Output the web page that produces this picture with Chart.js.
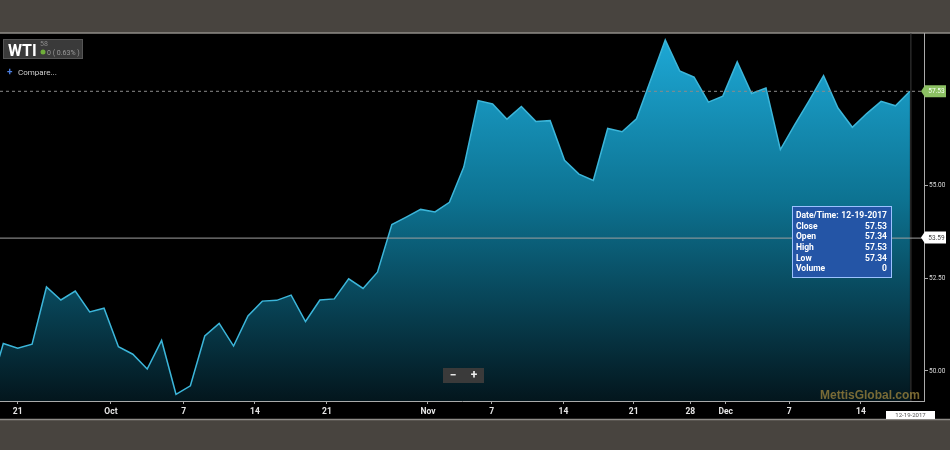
<!DOCTYPE html>
<html>
<head>
<meta charset="utf-8">
<script src="https://cdn.jsdelivr.net/npm/chart.js@4.4.1/dist/chart.umd.min.js"></script>
<style>
  html, body { margin: 0; padding: 0; background: #48443f; }
  #wrap { width: 950px; height: 450px; }
</style>
</head>
<body>
<div id="wrap"><canvas id="graficoWTI" width="950" height="450"></canvas></div>
<script>
// Cierres WTI por dia habil (indice -1 queda cortado en el borde izquierdo)
const precios = [
  49.40,
  50.74, 50.61, 50.72, 52.26, 51.91, 52.15, 51.59, 51.69, 50.65, 50.45,
  50.05, 50.82, 49.37, 49.60, 50.94, 51.28, 50.67, 51.48, 51.88, 51.90,
  52.04, 51.33, 51.91, 51.94, 52.48, 52.22, 52.66, 53.94, 54.14, 54.35,
  54.28, 54.54, 55.49, 57.28, 57.19, 56.78, 57.12, 56.72, 56.74, 55.67,
  55.30, 55.13, 56.53, 56.44, 56.79, 57.85, 58.91, 58.08, 57.91, 57.24,
  57.40, 58.32, 57.47, 57.62, 55.96, 56.63, 57.28, 57.95, 57.08, 56.56,
  56.93, 57.26, 57.14, 57.53
];
const primerIndice = -1;

// Etiquetas del eje X (posicion en dias habiles desde 20-sep)
const xTickPos = [1, 7.48, 12.54, 17.49, 22.49, 29.51, 33.94, 38.92, 43.81, 47.74, 50.2, 54.62, 59.6];
const xTickLabels = ["21", "Oct", "7", "14", "21", "Nov", "7", "14", "21", "28", "Dec", "7", "14"];

// Eje Y
const yTickVals = [50, 52.5, 55, 57.5];

// Crosshair / tooltip
const precioCursor = 53.59;
const tooltipFilas = [
  ["Date/Time:", "12-19-2017"],
  ["Close", "57.53"],
  ["Open", "57.34"],
  ["High", "57.53"],
  ["Low", "57.34"],
  ["Volume", "0"]
];

const puntos = precios.map((p, i) => ({ x: i + primerIndice, y: p }));
const ultimo = puntos[puntos.length - 1];

function gradiente(ctx) {
  const area = ctx.chart.chartArea;
  if (!area) return '#0b6a86';
  const g = ctx.chart.ctx.createLinearGradient(0, area.top, 0, area.bottom);
  g.addColorStop(0, '#1eaad8');
  g.addColorStop(0.45, '#0d7392');
  g.addColorStop(1, '#03161d');
  return g;
}

function etiquetaFlecha(c, x, y, w, h, fondo, texto, colorTexto) {
  c.beginPath();
  c.moveTo(x, y);
  c.lineTo(x + 4, y - h / 2);
  c.lineTo(x + w, y - h / 2);
  c.lineTo(x + w, y + h / 2);
  c.lineTo(x + 4, y + h / 2);
  c.closePath();
  c.fillStyle = fondo;
  c.fill();
  c.fillStyle = colorTexto;
  c.font = '6.5px Roboto';
  c.textAlign = 'center';
  c.textBaseline = 'middle';
  c.fillText(texto, x + 3 + w / 2, y + 0.5);
}

// Fondo gris y panel negro
const fondoPlugin = {
  id: 'fondo',
  beforeDraw(chart) {
    const c = chart.ctx;
    c.save();
    c.fillStyle = '#48443f';
    c.fillRect(0, 0, 950, 450);
    c.fillStyle = '#000';
    c.fillRect(0, 33, 950, 386);
    c.strokeStyle = '#8e8c88';
    c.lineWidth = 1.5;
    c.beginPath();
    c.moveTo(0, 33); c.lineTo(950, 33);
    c.moveTo(0, 419.5); c.lineTo(950, 419.5);
    c.stroke();
    c.restore();
  }
};

// Lineas y cajas encima del grafico
const extrasPlugin = {
  id: 'extras',
  afterDraw(chart) {
    const c = chart.ctx;
    const area = chart.chartArea;
    const xs = chart.scales.x, ys = chart.scales.y;
    const xFin = xs.getPixelForValue(ultimo.x);
    const yUlt = ys.getPixelForValue(ultimo.y);
    const yCur = ys.getPixelForValue(precioCursor);
    c.save();

    // fin de datos
    c.strokeStyle = '#3c3c3c';
    c.lineWidth = 1;
    c.beginPath();
    c.moveTo(xFin + 1, area.top); c.lineTo(xFin + 1, area.bottom);
    c.stroke();

    // ultimo precio
    c.strokeStyle = '#8a8a8a';
    c.setLineDash([3, 3]);
    c.beginPath();
    c.moveTo(0, yUlt); c.lineTo(area.right, yUlt);
    c.stroke();
    c.setLineDash([]);

    // crosshair
    c.strokeStyle = '#a0a0a0';
    c.beginPath();
    c.moveTo(0, yCur + 0.5); c.lineTo(area.right, yCur + 0.5);
    c.stroke();

    etiquetaFlecha(c, 921, yUlt, 25, 12, '#8cc063', ultimo.y.toFixed(2), '#f4fff0');
    etiquetaFlecha(c, 921, yCur, 25, 12, '#ffffff', precioCursor.toFixed(2), '#444');

    // caja WTI
    c.fillStyle = '#3a3a3a';
    c.fillRect(3, 39, 80, 20);
    c.strokeStyle = '#555';
    c.strokeRect(3.5, 39.5, 79, 19);
    c.fillStyle = '#fff';
    c.font = 'bold 16px Roboto';
    c.textAlign = 'left';
    c.textBaseline = 'alphabetic';
    c.fillText('WTI', 8, 56);
    c.fillStyle = '#8a8a8a';
    c.font = '7px Roboto';
    c.fillText('58', 40, 46);
    c.fillStyle = '#6fae3a';
    c.beginPath(); c.arc(43, 52, 2.5, 0, Math.PI * 2); c.fill();
    c.fillStyle = '#9a9a9a';
    c.fillText('0 ( 0.63% )', 47, 55);

    c.fillStyle = '#4d7fe0';
    c.font = 'bold 10px Roboto';
    c.fillText('+', 7, 75);
    c.fillStyle = '#d0d0d0';
    c.font = '8px Roboto';
    c.fillText('Compare...', 18, 75);

    // tooltip
    c.fillStyle = '#2455a6';
    c.fillRect(792, 206, 100, 72);
    c.strokeStyle = '#9cc2ff';
    c.strokeRect(792.5, 206.5, 99, 71);
    c.fillStyle = '#fff';
    c.font = 'bold 8.5px Roboto';
    c.textBaseline = 'middle';
    tooltipFilas.forEach((f, i) => {
      const y = 216 + i * 10.6;
      c.textAlign = 'left';
      c.fillText(f[0], 796, y);
      c.textAlign = 'right';
      c.fillText(f[1], 887, y);
    });

    // botones zoom
    c.fillStyle = '#3a3a3a';
    c.fillRect(443, 368, 41, 15);
    c.fillStyle = '#eee';
    c.font = 'bold 12px Roboto';
    c.textAlign = 'center';
    c.fillText('\u2212', 453, 375.5);
    c.fillText('+', 474, 375.5);

    // marca de agua
    c.fillStyle = 'rgba(150,128,60,0.8)';
    c.font = 'bold 12px "Liberation Sans"';
    c.textAlign = 'right';
    c.textBaseline = 'alphabetic';
    c.fillText('MettisGlobal.com', 920, 399);

    // fecha
    c.fillStyle = '#fff';
    c.fillRect(886, 411, 49, 8);
    c.fillStyle = '#555';
    c.font = '6px Roboto';
    c.textAlign = 'center';
    c.textBaseline = 'middle';
    c.fillText('12-19-2017', 910.5, 415.5);

    c.restore();
  }
};

new Chart(document.getElementById('graficoWTI').getContext('2d'), {
  type: 'line',
  data: {
    datasets: [{
      label: 'WTI',
      data: puntos,
      borderColor: '#3cb6da',
      borderWidth: 1.5,
      backgroundColor: gradiente,
      fill: 'start',
      pointRadius: 0,
      tension: 0
    }]
  },
  options: {
    responsive: false,
    animation: false,
    devicePixelRatio: 1,
    layout: { padding: { top: 33, left: 0, right: 0, bottom: 31 } },
    plugins: { legend: { display: false }, tooltip: { enabled: false } },
    scales: {
      x: {
        type: 'linear',
        min: -0.23,
        max: 63.98,
        afterFit: (s) => { s.height = 18; },
        afterBuildTicks: (s) => { s.ticks = xTickPos.map(v => ({ value: v })); },
        grid: { drawOnChartArea: false, drawTicks: true, tickLength: 3, tickColor: '#aaa' },
        border: { display: true, color: '#aaa', width: 1 },
        ticks: {
          autoSkip: false,
          maxRotation: 0,
          padding: 3,
          color: '#e6e6e6',
          font: { family: 'Roboto', size: 8.5, weight: 'bold' },
          callback: (v, i) => xTickLabels[i]
        }
      },
      y: {
        position: 'right',
        min: 49.19,
        max: 59.1,
        afterFit: (s) => { s.width = 26; },
        afterBuildTicks: (s) => { s.ticks = yTickVals.map(v => ({ value: v })); },
        grid: { drawOnChartArea: false, drawTicks: true, tickLength: 4, tickColor: '#aaa' },
        border: { display: true, color: '#aaa', width: 1 },
        ticks: {
          padding: 1,
          color: '#dcdcdc',
          font: { family: 'Roboto', size: 6.5 },
          callback: (v) => Number(v).toFixed(2)
        }
      }
    }
  },
  plugins: [fondoPlugin, extrasPlugin]
});
</script>
</body>
</html>
